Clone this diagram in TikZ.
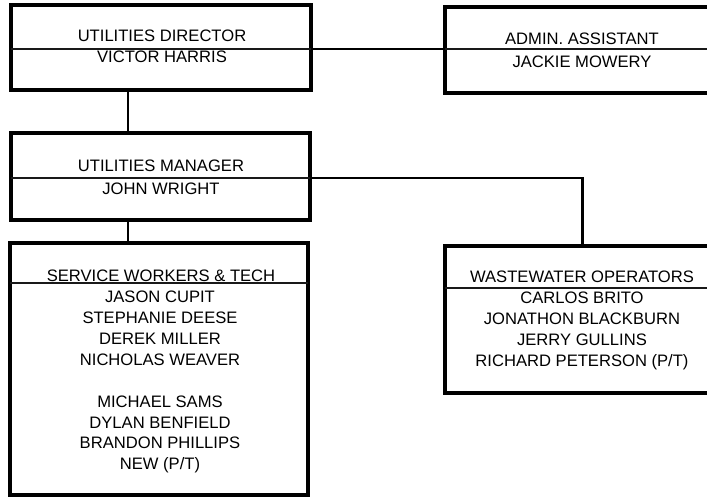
\documentclass[tikz,border=0pt]{standalone}
\usepackage{fontspec}
\setmainfont{Liberation Sans}
\begin{document}
\begin{tikzpicture}[x=1pt,y=-1pt,
  box/.style={draw=black, line width=3.2pt, inner sep=0pt, outer sep=0pt},
  divline/.style={draw=black!90, line width=1.7pt},
  conn/.style={draw=black, line width=2.8pt},
  txt/.style={anchor=base, inner sep=0pt, text=black, font=\fontsize{16.6}{20}\selectfont}]
\useasboundingbox (0,0) rectangle (707,497);
% boxes
\node[box, minimum width=300pt, minimum height=85pt] (dir) at (161,47.5) {};
\node[box, minimum width=275pt, minimum height=86pt] (adm) at (582.5,50) {};
\node[box, minimum width=299pt, minimum height=87pt] (mgr) at (160.5,176.5) {};
\node[box, minimum width=298pt, minimum height=252pt] (svc) at (159,369) {};
\node[box, minimum width=275pt, minimum height=147pt] (ww) at (582.5,319.5) {};
% divider / connector coordinates
\coordinate (d1) at (0,49);
\coordinate (m1) at (0,178);
\coordinate (s1) at (0,283);
\coordinate (w1) at (0,288);
% connectors
\draw[divline] (dir.west|-d1) -- (dir.east|-d1);
\draw[conn] (dir.east|-d1) -- (adm.west|-d1);
\draw[divline] (adm.west|-d1) -- (adm.east|-d1);
\draw[divline] (mgr.west|-m1) -- (mgr.east|-m1);
\draw[conn] (mgr.east|-m1) -| (ww.north);
\draw[conn] (dir.south-|128,0) -- (mgr.north-|128,0);
\draw[conn] (mgr.south-|128,0) -- (svc.north-|128,0);
\draw[divline] (svc.west|-s1) -- (svc.east|-s1);
\draw[divline] (ww.west|-w1) -- (ww.east|-w1);
% texts
\node[txt] (dirT) at (162,42) {UTILITIES DIRECTOR};
\node[txt] (dirN) at (162,63) {VICTOR HARRIS};
\node[txt] (admT) at (582,45) {ADMIN. ASSISTANT};
\node[txt] (admN) at (582,68) {JACKIE MOWERY};
\node[txt] (mgrT) at (161,172) {UTILITIES MANAGER};
\node[txt] (mgrN) at (161,195) {JOHN WRIGHT};
\node[txt] (svcT) at (161,281) {SERVICE WORKERS \& TECH};
\node[txt] (s1n) at (160,302) {JASON CUPIT};
\node[txt] (s2n) at (160,323) {STEPHANIE DEESE};
\node[txt] (s3n) at (160,344) {DEREK MILLER};
\node[txt] (s4n) at (160,365) {NICHOLAS WEAVER};
\node[txt] (s5n) at (160,407) {MICHAEL SAMS};
\node[txt] (s6n) at (160,428) {DYLAN BENFIELD};
\node[txt] (s7n) at (160,448) {BRANDON PHILLIPS};
\node[txt] (s8n) at (160,469) {NEW (P/T)};
\node[txt] (wwT) at (582,283) {WASTEWATER OPERATORS};
\node[txt] (w1n) at (582,303) {CARLOS BRITO};
\node[txt] (w2n) at (582,324) {JONATHON BLACKBURN};
\node[txt] (w3n) at (582,345) {JERRY GULLINS};
\node[txt] (w4n) at (582,366) {RICHARD PETERSON (P/T)};
\end{tikzpicture}
\end{document}
